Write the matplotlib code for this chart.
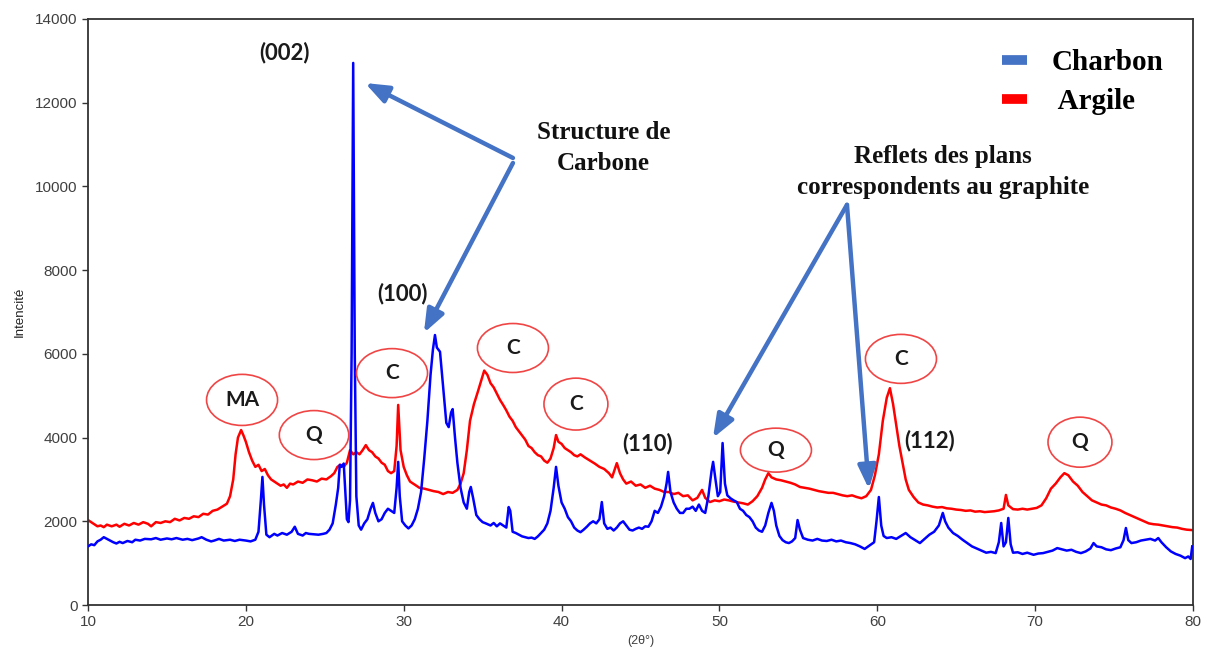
import matplotlib
matplotlib.use("Agg")
import matplotlib.pyplot as plt
from matplotlib.patches import Ellipse
from matplotlib.lines import Line2D

# Diffractogramme DRX : charbon et argile
charbon_2theta = [
    10.0, 10.2, 10.4, 10.6, 10.8, 11.0, 11.2, 11.4, 11.6, 11.8, 12.0, 12.2, 12.5, 12.8,
    13.0, 13.3, 13.6, 14.0, 14.3, 14.6, 15.0, 15.3, 15.6, 16.0, 16.3, 16.6, 17.0, 17.2,
    17.5, 17.8, 18.0, 18.3, 18.6, 19.0, 19.3, 19.6, 20.0, 20.3, 20.6, 20.8, 20.95, 21.05,
    21.15, 21.3, 21.5, 21.8, 22.0, 22.3, 22.6, 22.9, 23.1, 23.3, 23.6, 23.8, 24.0, 24.3,
    24.6, 24.9, 25.1, 25.3, 25.5, 25.7, 25.85, 25.95, 26.05, 26.2, 26.3, 26.4, 26.5, 26.6,
    26.7, 26.8, 26.9, 27.0, 27.15, 27.3, 27.5, 27.7, 27.9, 28.05, 28.2, 28.4, 28.6, 28.8,
    29.0, 29.2, 29.4, 29.55, 29.65, 29.75, 29.9, 30.1, 30.3, 30.5, 30.7, 30.9, 31.1, 31.3,
    31.5, 31.7, 31.85, 31.98, 32.1, 32.3, 32.5, 32.7, 32.85, 33.0, 33.1, 33.25, 33.4, 33.6,
    33.8, 34.0, 34.15, 34.25, 34.4, 34.6, 34.8, 35.0, 35.2, 35.5, 35.7, 35.9, 36.1, 36.3,
    36.5, 36.65, 36.75, 36.9, 37.1, 37.3, 37.5, 37.7, 37.9, 38.1, 38.3, 38.5, 38.7, 38.9,
    39.1, 39.3, 39.5, 39.65, 39.8, 40.0, 40.2, 40.4, 40.6, 40.8, 41.0, 41.2, 41.4, 41.6,
    41.8, 42.0, 42.2, 42.4, 42.55, 42.7, 42.9, 43.1, 43.3, 43.5, 43.7, 43.9, 44.1, 44.3,
    44.5, 44.7, 44.9, 45.1, 45.3, 45.5, 45.7, 45.9, 46.1, 46.3, 46.5, 46.65, 46.75, 46.9,
    47.1, 47.3, 47.5, 47.7, 47.9, 48.1, 48.3, 48.5, 48.7, 48.9, 49.1, 49.3, 49.5, 49.6,
    49.75, 49.9, 50.05, 50.2, 50.35, 50.5, 50.7, 50.9, 51.1, 51.3, 51.5, 51.7, 51.9, 52.1,
    52.3, 52.5, 52.7, 52.9, 53.1, 53.3, 53.45, 53.6, 53.8, 54.0, 54.2, 54.4, 54.6, 54.8,
    54.95, 55.1, 55.3, 55.6, 55.9, 56.2, 56.5, 56.8, 57.1, 57.4, 57.7, 58.0, 58.3, 58.6,
    58.9, 59.2, 59.5, 59.8, 59.95, 60.1, 60.25, 60.4, 60.6, 60.9, 61.2, 61.5, 61.8, 62.1,
    62.4, 62.7, 63.0, 63.3, 63.6, 63.9, 64.15, 64.3, 64.5, 64.8, 65.1, 65.4, 65.7, 66.0,
    66.3, 66.6, 66.9, 67.2, 67.5, 67.7, 67.85, 68.0, 68.15, 68.3, 68.45, 68.6, 68.9, 69.2,
    69.5, 69.9, 70.2, 70.5, 70.8, 71.1, 71.4, 71.7, 72.0, 72.3, 72.6, 72.9, 73.2, 73.5,
    73.7, 73.9, 74.2, 74.5, 74.8, 75.1, 75.4, 75.6, 75.75, 75.9, 76.1, 76.4, 76.7, 77.0,
    77.3, 77.6, 77.8, 78.0, 78.3, 78.6, 78.9, 79.2, 79.5, 79.7, 79.85, 79.95,
]
charbon_int = [
    1400, 1450, 1430, 1520, 1560, 1620, 1580, 1540, 1500, 1470, 1510, 1480, 1530, 1500,
    1560, 1540, 1580, 1570, 1600, 1560, 1590, 1570, 1600, 1560, 1580, 1550, 1590, 1620,
    1560, 1520, 1540, 1580, 1540, 1560, 1530, 1560, 1540, 1520, 1560, 1750, 2500, 3060,
    2400, 1680, 1620, 1700, 1660, 1720, 1680, 1750, 1870, 1700, 1660, 1720, 1700, 1690,
    1680, 1700, 1720, 1800, 1950, 2400, 2800, 3350, 3300, 3380, 2700, 2050, 1980, 2500,
    6000, 12950, 6000, 2600, 1900, 1800, 1950, 2050, 2300, 2440, 2200, 2000, 2050, 2200,
    2300, 2250, 2200, 2800, 3420, 2600, 2000, 1900, 1830, 1900, 2050, 2300, 2700, 3500,
    4400, 5500, 6100, 6450, 6150, 6050, 5200, 4350, 4250, 4600, 4680, 4000, 3400, 2800,
    2450, 2300, 2700, 2820, 2550, 2150, 2050, 1980, 1950, 1900, 1960, 1880, 1950, 1900,
    1850, 2340, 2250, 1750, 1720, 1680, 1640, 1620, 1600, 1610, 1580, 1640, 1720, 1800,
    1950, 2250, 2800, 3300, 2850, 2450, 2300, 2100, 2000, 1850, 1780, 1740, 1800, 1870,
    1950, 2000, 1950, 2050, 2460, 1950, 1820, 1850, 1780, 1850, 1950, 2000, 1900, 1800,
    1780, 1820, 1850, 1820, 1880, 1870, 2000, 2250, 2200, 2350, 2600, 2900, 3180, 2700,
    2450, 2300, 2200, 2200, 2300, 2300, 2350, 2250, 2400, 2250, 2200, 2600, 3200, 3420,
    3000, 2600, 2700, 3870, 2900, 2620, 2550, 2500, 2460, 2300, 2250, 2150, 2100, 2000,
    1850, 1780, 1750, 1900, 2200, 2440, 2250, 1900, 1650, 1550, 1500, 1480, 1520, 1600,
    2030, 1800, 1600, 1560, 1540, 1580, 1540, 1530, 1560, 1520, 1540, 1500, 1480, 1450,
    1400, 1340, 1420, 1500, 2000, 2580, 1900, 1650, 1600, 1620, 1580, 1650, 1720, 1620,
    1550, 1480, 1580, 1680, 1750, 1900, 2200, 2000, 1850, 1720, 1650, 1560, 1480, 1400,
    1350, 1300, 1250, 1270, 1240, 1500, 1960, 1400, 1500, 2080, 1450, 1250, 1260, 1220,
    1250, 1200, 1230, 1240, 1270, 1300, 1360, 1330, 1300, 1320, 1270, 1240, 1280, 1350,
    1480, 1400, 1380, 1330, 1310, 1350, 1380, 1550, 1840, 1550, 1480, 1500, 1540, 1560,
    1580, 1540, 1600, 1500, 1380, 1280, 1220, 1180, 1120, 1160, 1100, 1400,
]

argile_2theta = [
    10.0, 10.2, 10.4, 10.6, 10.8, 11.0, 11.2, 11.5, 11.8, 12.0, 12.3, 12.6, 12.9, 13.2,
    13.5, 13.8, 14.0, 14.3, 14.6, 14.9, 15.2, 15.5, 15.8, 16.1, 16.4, 16.7, 17.0, 17.3,
    17.6, 17.9, 18.2, 18.5, 18.8, 19.0, 19.2, 19.35, 19.5, 19.7, 19.85, 20.0, 20.2, 20.4,
    20.6, 20.8, 21.0, 21.2, 21.4, 21.6, 21.8, 22.0, 22.2, 22.4, 22.6, 22.8, 23.0, 23.3,
    23.6, 23.9, 24.2, 24.5, 24.8, 25.1, 25.4, 25.6, 25.8, 26.0, 26.2, 26.4, 26.6, 26.8,
    27.0, 27.2, 27.4, 27.6, 27.8, 28.0, 28.2, 28.4, 28.6, 28.8, 29.0, 29.2, 29.4, 29.55,
    29.65, 29.8, 30.0, 30.2, 30.4, 30.6, 30.8, 31.0, 31.3, 31.6, 31.9, 32.2, 32.5, 32.8,
    33.1, 33.4, 33.6, 33.8, 34.0, 34.2, 34.45, 34.7, 34.9, 35.1, 35.3, 35.5, 35.7, 35.9,
    36.1, 36.3, 36.5, 36.7, 36.9, 37.1, 37.3, 37.5, 37.7, 37.9, 38.1, 38.3, 38.5, 38.7,
    38.9, 39.1, 39.3, 39.5, 39.65, 39.8, 40.0, 40.2, 40.4, 40.6, 40.8, 41.0, 41.2, 41.5,
    41.8, 42.1, 42.4, 42.7, 43.0, 43.2, 43.5, 43.7, 43.9, 44.1, 44.4, 44.7, 45.0, 45.3,
    45.6, 45.9, 46.2, 46.5, 46.8, 47.1, 47.4, 47.7, 48.0, 48.3, 48.6, 48.9, 49.1, 49.4,
    49.7, 50.0, 50.3, 50.6, 50.9, 51.2, 51.5, 51.8, 52.1, 52.4, 52.7, 52.9, 53.1, 53.3,
    53.6, 53.9, 54.2, 54.5, 54.8, 55.1, 55.4, 55.7, 56.0, 56.3, 56.6, 56.9, 57.2, 57.5,
    57.8, 58.1, 58.4, 58.7, 59.0, 59.3, 59.6, 59.85, 60.1, 60.35, 60.6, 60.8, 61.0, 61.2,
    61.4, 61.6, 61.8, 62.0, 62.3, 62.6, 62.9, 63.2, 63.5, 63.8, 64.1, 64.4, 64.7, 65.0,
    65.3, 65.6, 65.9, 66.2, 66.5, 66.8, 67.1, 67.4, 67.7, 68.0, 68.15, 68.3, 68.6, 68.9,
    69.2, 69.5, 69.8, 70.1, 70.4, 70.7, 71.0, 71.3, 71.6, 71.85, 72.1, 72.4, 72.7, 73.0,
    73.3, 73.6, 73.9, 74.2, 74.5, 74.8, 75.1, 75.4, 75.7, 76.0, 76.3, 76.6, 76.9, 77.2,
    77.5, 77.8, 78.1, 78.4, 78.7, 79.0, 79.3, 79.6, 79.95,
]
argile_int = [
    2030, 1980, 1930, 1880, 1900, 1860, 1920, 1880, 1920, 1870, 1940, 1900, 1960, 1920,
    1980, 1940, 1880, 1980, 1960, 2000, 1980, 2060, 2020, 2080, 2060, 2120, 2100, 2180,
    2160, 2250, 2280, 2350, 2420, 2600, 3000, 3600, 4000, 4180, 4050, 3900, 3650, 3450,
    3300, 3350, 3200, 3250, 3100, 3000, 2950, 2900, 2850, 2880, 2800, 2900, 2880, 2950,
    2920, 3000, 2980, 2950, 3020, 3000, 3080, 3150, 3300, 3350, 3300, 3400, 3700, 3600,
    3650, 3600, 3700, 3820, 3700, 3650, 3550, 3500, 3400, 3350, 3200, 3150, 3200, 3800,
    4780, 3700, 3300, 3100, 2950, 2900, 2850, 2800, 2780, 2750, 2720, 2700, 2650, 2700,
    2680, 2750, 2900, 3150, 3700, 4400, 4800, 5100, 5350, 5600, 5500, 5300, 5200, 5050,
    4900, 4780, 4650, 4500, 4400, 4250, 4150, 4050, 3950, 3800, 3750, 3650, 3580, 3550,
    3450, 3400, 3500, 3750, 4060, 3900, 3850, 3750, 3700, 3650, 3580, 3550, 3600, 3520,
    3450, 3380, 3300, 3250, 3150, 3050, 3390, 3150, 3000, 2900, 2950, 2850, 2880, 2800,
    2850, 2780, 2750, 2700, 2700, 2650, 2680, 2600, 2620, 2500, 2560, 2750, 2560, 2460,
    2500, 2480, 2520, 2500, 2470, 2450, 2430, 2400, 2480, 2600, 2800, 3000, 3150, 3050,
    3000, 2980, 2950, 2920, 2880, 2820, 2800, 2780, 2750, 2720, 2700, 2680, 2680, 2650,
    2620, 2600, 2620, 2580, 2550, 2600, 2750, 3100, 3600, 4400, 4950, 5180, 4800, 4300,
    3800, 3400, 3000, 2750, 2580, 2450, 2400, 2380, 2350, 2330, 2340, 2310, 2300, 2280,
    2270, 2250, 2260, 2230, 2240, 2220, 2230, 2240, 2260, 2300, 2630, 2380, 2290, 2280,
    2300, 2280, 2300, 2320, 2380, 2550, 2780, 2900, 3050, 3150, 3100, 2950, 2850, 2700,
    2600, 2500, 2450, 2400, 2380, 2330, 2300, 2260, 2200, 2150, 2100, 2050, 2000, 1950,
    1930, 1920, 1900, 1880, 1860, 1850, 1820, 1800, 1790,
]

# phases identifiees : (label, 2theta, intensite, largeur, hauteur)
phases = [
    ("MA", 19.76, 4900, 4.5, 1220),
    ("Q", 24.32, 4060, 4.4, 1170),
    ("C", 29.26, 5540, 4.5, 1170),
    ("C", 36.92, 6140, 4.5, 1170),
    ("C", 40.91, 4800, 4.05, 1240),
    ("Q", 53.58, 3700, 4.5, 1050),
    ("C", 61.5, 5880, 4.5, 1170),
    ("Q", 72.84, 3890, 4.05, 1195),
]

# plans (hkl)
plans = [
    ("(002)", 22.48, 13210),
    ("(100)", 29.95, 7450),
    ("(110)", 45.47, 3850),
    ("(112)", 63.34, 3940),
]

fig = plt.figure(figsize=(12.07, 6.5), dpi=100)
ax = fig.add_axes([0.0729, 0.0692, 0.9155, 0.9016])

ax.plot(argile_2theta, argile_int, color="#FF0000", lw=1.8, zorder=2)
ax.plot(charbon_2theta, charbon_int, color="#0000FF", lw=1.8, zorder=3)

ax.set_xlim(10, 80)
ax.set_ylim(0, 14000)
ax.set_xticks(range(10, 81, 10))
ax.set_yticks(range(0, 14001, 2000))
ax.tick_params(direction="out", length=4, width=1, colors="#333333",
               labelsize=11, labelcolor="#404040")
for lab in ax.get_xticklabels() + ax.get_yticklabels():
    lab.set_family("Liberation Sans")
for sp in ax.spines.values():
    sp.set_color("#333333")
    sp.set_linewidth(1.3)

ax.set_xlabel("(2θ°)", fontsize=9, family="Liberation Sans", color="#404040", labelpad=4)
ax.set_ylabel("Intencité", fontsize=9.5, family="Liberation Sans", color="#222222", labelpad=7)

for lab, x0, y0, w, h in phases:
    ax.add_patch(Ellipse((x0, y0), w, h, fill=False, edgecolor="#F04545", lw=1.2, zorder=4))
    ax.text(x0, y0, lab, ha="center", va="center", fontsize=15, fontweight="bold",
            family=["Lato", "DejaVu Sans"], color="#1a1a1a", zorder=5)

for lab, x0, y0 in plans:
    ax.text(x0, y0, lab, ha="center", va="center", fontsize=16, fontweight="bold",
            family=["Lato", "DejaVu Sans"], color="#1a1a1a", zorder=5)

# fleches vers les pics du carbone
arrow_kw = dict(arrowstyle="-|>,head_length=0.7,head_width=0.27", lw=3.2,
                color="#4472C4", shrinkA=0, shrinkB=0, mutation_scale=20)
ax.annotate("", xy=(27.55, 12470), xytext=(36.92, 10680), arrowprops=arrow_kw, zorder=6)
ax.annotate("", xy=(31.28, 6500), xytext=(36.92, 10560), arrowprops=arrow_kw, zorder=6)
ax.annotate("", xy=(49.59, 3990), xytext=(58.08, 9560), arrowprops=arrow_kw, zorder=6)
ax.annotate("", xy=(59.47, 2770), xytext=(58.08, 9560), arrowprops=arrow_kw, zorder=6)

ax.text(42.65, 10920, "Structure de\nCarbone", ha="center", va="center", fontsize=18,
        fontweight="bold", family="Liberation Serif", linespacing=1.45, color="#111111")
ax.text(64.17, 10340, "Reflets des plans\ncorrespondents au graphite", ha="center",
        va="center", fontsize=18, fontweight="bold", family="Liberation Serif",
        linespacing=1.45, color="#111111")

handles = [Line2D([], [], color="#4472C4", lw=7, solid_capstyle="butt"),
           Line2D([], [], color="#FF0000", lw=7, solid_capstyle="butt")]
ax.legend(handles, ["Charbon", " Argile"], loc="upper right",
          bbox_to_anchor=(0.984, 0.968), borderaxespad=0, frameon=False,
          handlelength=0.85, handletextpad=0.85, labelspacing=0.4,
          prop={"family": "Liberation Serif", "weight": "bold", "size": 21})

fig.savefig("out.png", dpi=100)
